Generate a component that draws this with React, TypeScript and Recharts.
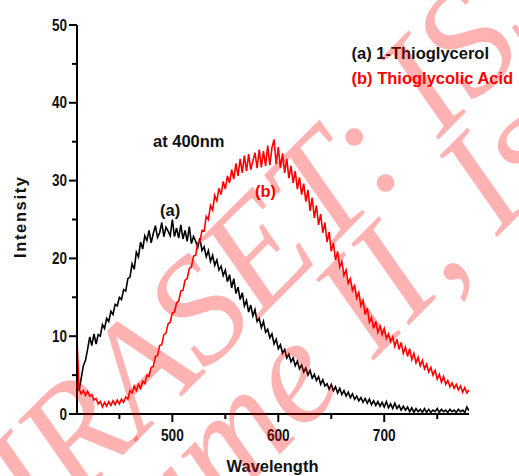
import React from 'react';
import { LineChart, Line, XAxis, YAxis } from 'recharts';

// Sampling grid of the spectra (nm)
const WL_START = 410;
const WL_STEP = 2;

// (a) 1-Thioglycerol — intensity, 410..780 nm every 2 nm
const thioglycerol = [
  5.2, 3.0, 4.6, 6.2, 6.9, 8.3, 9.9, 8.8, 10.3, 9.0,
  10.2, 10.0, 11.5, 11.0, 12.3, 11.9, 13.2, 12.8, 14.1, 13.9,
  15.0, 14.7, 16.0, 15.8, 17.4, 17.6, 19.3, 18.6, 20.8, 20.2,
  22.1, 21.2, 22.9, 22.3, 23.6, 22.0, 23.2, 24.2, 22.7, 23.3,
  24.6, 22.8, 24.0, 23.5, 22.9, 25.0, 22.8, 23.9, 22.6, 24.3,
  22.5, 23.6, 22.2, 24.1, 21.9, 22.8, 22.2, 21.4, 22.6, 21.0,
  21.5, 20.2, 21.0, 19.6, 20.4, 19.1, 19.8, 18.5, 19.0, 17.8,
  18.5, 17.0, 17.9, 16.2, 17.4, 15.5, 16.3, 14.7, 15.6, 13.9,
  14.6, 13.1, 14.0, 12.6, 13.4, 11.9, 12.3, 11.1, 11.9, 10.5,
  10.9, 9.8, 10.3, 9.0, 9.6, 8.4, 8.9, 7.8, 8.3, 7.2,
  7.7, 6.7, 7.2, 6.2, 6.8, 5.8, 6.3, 5.4, 5.9, 5.0,
  5.6, 4.6, 5.1, 4.3, 4.8, 3.8, 4.4, 3.6, 3.9, 3.2,
  3.8, 3.0, 3.5, 2.7, 3.3, 2.5, 3.0, 2.3, 2.8, 2.1,
  2.6, 1.9, 2.3, 1.7, 2.1, 1.5, 2.0, 1.4, 1.9, 1.2,
  1.7, 1.1, 1.6, 1.0, 1.5, 0.9, 1.6, 0.8, 1.3, 0.7,
  1.4, 0.7, 1.1, 0.5, 1.0, 0.5, 0.9, 0.3, 0.8, 0.2,
  0.7, 0.3, 0.6, 0.2, 0.7, 0.2, 0.6, 0.2, 0.5, 0.3,
  0.7, 0.2, 0.6, 0.3, 0.5, 0.2, 0.6, 0.3, 0.5, 0.2,
  0.6, 0.3, 0.5, 0.2, 0.9, 0.4,
];

// (b) Thioglycolic Acid — intensity, 410..780 nm every 2 nm
const thioglycolic = [
  9.5, 3.2, 2.6, 3.0, 2.4, 2.9, 2.3, 2.5, 1.8, 2.0,
  1.3, 1.6, 0.9, 1.5, 1.0, 1.6, 1.1, 1.7, 1.2, 1.8,
  1.3, 1.9, 1.5, 2.2, 1.9, 3.0, 2.7, 3.6, 3.0, 3.8,
  3.3, 4.2, 3.9, 5.0, 4.9, 6.0, 6.1, 7.4, 7.5, 8.8,
  8.9, 10.2, 10.4, 11.6, 11.8, 13.0, 13.1, 14.3, 14.5, 15.8,
  15.9, 17.2, 17.4, 18.7, 18.9, 20.3, 20.4, 22.0, 22.1, 23.6,
  23.5, 25.4, 25.0, 26.8, 26.2, 28.1, 27.4, 29.0, 28.2, 29.9,
  28.9, 30.6, 29.7, 31.4, 30.2, 32.2, 30.6, 32.8, 31.0, 33.2,
  31.2, 33.4, 31.4, 32.5, 33.6, 31.6, 34.0, 31.7, 33.8, 31.9,
  34.5, 32.0, 34.2, 35.3, 32.1, 34.3, 31.6, 33.5, 31.0, 32.8,
  30.3, 31.9, 29.7, 31.2, 28.9, 30.4, 28.2, 29.6, 27.3, 28.8,
  26.1, 27.8, 25.2, 26.8, 24.3, 25.7, 23.3, 24.6, 22.1, 23.4,
  20.9, 22.0, 19.8, 20.9, 18.9, 19.6, 17.8, 18.5, 16.8, 17.4,
  15.9, 16.5, 14.9, 15.6, 13.9, 14.6, 12.8, 13.6, 11.8, 12.4,
  11.0, 11.9, 10.5, 11.3, 10.2, 11.0, 9.7, 10.3, 9.3, 9.9,
  8.7, 9.6, 8.3, 9.2, 7.8, 8.6, 7.4, 8.4, 7.0, 7.8,
  6.6, 7.3, 6.2, 6.9, 5.8, 6.4, 5.4, 6.0, 5.0, 5.6,
  4.5, 5.1, 4.1, 4.8, 3.8, 4.3, 3.5, 4.0, 3.3, 3.8,
  3.1, 3.6, 2.8, 3.4, 2.7, 3.1,
];

const xTicks = [450, 500, 550, 600, 650, 700, 750];
const xLabeled = [500, 600, 700];
const yTicks = [0, 5, 10, 15, 20, 25, 30, 35, 40, 45, 50];
const yLabeled = [0, 10, 20, 30, 40, 50];

const seriesNames = ['(a) 1-Thioglycerol', '(b) Thioglycolic Acid'];
const curveTags = ['(a)', '(b)'];
const annotation = 'at 400nm';
const xTitle = 'Wavelength';
const yTitle = 'Intensity';
const watermarkLines = ['IJRASET: ISSN: 2321-9653', 'Volume II, Issue V, May 2014'];

const data = thioglycerol.map((a, i) => ({
  wl: WL_START + i * WL_STEP,
  a,
  b: thioglycolic[i],
}));

const SANS = "'Liberation Sans', Arial, sans-serif";
const SERIF = "'Liberation Serif', 'Times New Roman', serif";

const XTick = (props: any) => {
  const { x, y, payload } = props;
  const major = xLabeled.includes(payload.value);
  const s = String(payload.value);
  return (
    <g>
      <line x1={x} x2={x} y1={y} y2={y + (major ? 8 : 5)} stroke="#000" strokeWidth={2} />
      {major && (
        <text
          x={x}
          y={y + 27}
          textAnchor="middle"
          fontFamily={SANS}
          fontWeight="bold"
          fontSize={16}
          fill="#111"
          textLength={s.length * 7.6}
          lengthAdjust="spacingAndGlyphs"
        >
          {s}
        </text>
      )}
    </g>
  );
};

const YTick = (props: any) => {
  const { x, y, payload } = props;
  const major = yLabeled.includes(payload.value);
  const s = String(payload.value);
  return (
    <g>
      <line x1={x - (major ? 8 : 5)} x2={x} y1={y} y2={y} stroke="#000" strokeWidth={2} />
      {major && (
        <text
          x={x - 10}
          y={y + 5.5}
          textAnchor="end"
          fontFamily={SANS}
          fontWeight="bold"
          fontSize={16}
          fill="#111"
          textLength={s.length * 7.5}
          lengthAdjust="spacingAndGlyphs"
        >
          {s}
        </text>
      )}
    </g>
  );
};

export default function App() {
  return (
    <div style={{ position: 'absolute', left: 0, top: 0, width: 519, height: 476, background: '#fff', overflow: 'hidden' }}>
      <LineChart width={519} height={476} data={data} margin={{ top: 25, right: 50, bottom: 0, left: 0 }}>
        <XAxis
          dataKey="wl"
          type="number"
          domain={[410, 780]}
          ticks={xTicks}
          interval={0}
          allowDataOverflow
          height={62}
          tickSize={0}
          tickMargin={0}
          tickLine={false}
          axisLine={{ stroke: '#000', strokeWidth: 2 }}
          tick={XTick}
        />
        <YAxis
          type="number"
          domain={[0, 50]}
          ticks={yTicks}
          interval={0}
          allowDataOverflow
          width={77}
          tickSize={0}
          tickMargin={0}
          tickLine={false}
          axisLine={{ stroke: '#000', strokeWidth: 2 }}
          tick={YTick}
        />
        <Line type="linear" dataKey="a" stroke="#000" strokeWidth={1.6} dot={false} isAnimationActive={false} />
        <Line type="linear" dataKey="b" stroke="#ff0000" strokeWidth={1.6} dot={false} isAnimationActive={false} />
      </LineChart>
      <svg width={519} height={476} style={{ position: 'absolute', left: 0, top: 0, pointerEvents: 'none' }}>
        <g fontFamily={SANS} fontWeight="bold" fontSize={16.5}>
          <text x={351.5} y={58.5} fill="#111">{seriesNames[0]}</text>
          <text x={351.5} y={83.5} fill="#ff0000">{seriesNames[1]}</text>
          <text x={153} y={147} fill="#111">{annotation}</text>
          <text x={160} y={216} fill="#111">{curveTags[0]}</text>
          <text x={255} y={197} fill="#ff0000">{curveTags[1]}</text>
          <text x={272.5} y={472} textAnchor="middle" fill="#111">{xTitle}</text>
          <text
            x={26}
            y={217.5}
            textAnchor="middle"
            transform="rotate(-90 26 217.5)"
            fill="#111"
            textLength={81}
            lengthAdjust="spacing"
          >
            {yTitle}
          </text>
        </g>
        <g fontFamily={SERIF} fontStyle="italic" fontSize={150} fill="#ff0000" fillOpacity={0.3}>
          <text x={-6} y={584} transform="rotate(-45 -6 584)">{watermarkLines[0]}</text>
          <text x={35} y={699} transform="rotate(-45 35 699)">{watermarkLines[1]}</text>
        </g>
      </svg>
    </div>
  );
}
